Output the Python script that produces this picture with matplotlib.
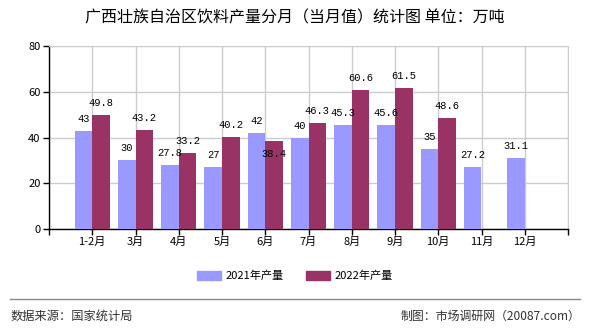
import matplotlib
matplotlib.use("Agg")
import matplotlib.pyplot as plt
import numpy as np
from matplotlib.patches import Patch
from matplotlib.lines import Line2D

plt.rcParams['font.family'] = ['Noto Sans CJK SC', 'DejaVu Sans']

categories = ["1-2月", "3月", "4月", "5月", "6月", "7月", "8月", "9月", "10月", "11月", "12月"]
values_2021 = [43, 30, 27.8, 27, 42, 40, 45.3, 45.6, 35, 27.2, 31.1]
values_2022 = [49.8, 43.2, 33.2, 40.2, 38.4, 46.3, 60.6, 61.5, 48.6, None, None]
series_names = ["2021年产量", "2022年产量"]
title = "广西壮族自治区饮料产量分月（当月值）统计图 单位：万吨"
source = "数据来源：国家统计局"
maker = "制图：市场调研网（20087.com）"

c1 = "#9999FF"
c2 = "#993366"

fig = plt.figure(figsize=(5.9, 3.3), dpi=100)
ax = fig.add_axes([49/590, 1-229/330, (568-49)/590, (229-46)/330])

x = np.arange(len(categories))
w = 0.405
v22 = [np.nan if v is None else v for v in values_2022]
ax.bar(x - w/2, values_2021, width=w, color=c1, zorder=3)
ax.bar(x + w/2, v22, width=w, color=c2, zorder=3)

lblfont = dict(family=['Liberation Mono', 'DejaVu Sans Mono'], fontsize=7.5, color='black')
for xi, v in zip(x, values_2021):
    ax.annotate(f"{v:g}", (xi - w/2, v), xytext=(0, 5), textcoords='offset points',
                ha='center', va='bottom', zorder=5, **lblfont)
for xi, v in zip(x, values_2022):
    if v is None:
        continue
    dy = 5
    if v == 38.4:
        dy = -13
    ax.annotate(f"{v:g}", (xi + w/2, v), xytext=(0, dy), textcoords='offset points',
                ha='center', va='bottom', zorder=5, **lblfont)

ax.set_xlim(-1, len(categories))
ax.set_ylim(0, 80)
ax.set_yticks([0, 20, 40, 60, 80])
ax.set_xticks(np.arange(-1, len(categories) + 1))
ax.set_xticklabels([""] + categories + [""])
ax.tick_params(axis='both', labelsize=8, length=4, width=1, colors='black', pad=2)
ax.grid(True, color='#cccccc', linewidth=1, zorder=0)
ax.set_axisbelow(True)
for s in ['top', 'right']:
    ax.spines[s].set_color('#cccccc')
for s in ['left', 'bottom']:
    ax.spines[s].set_color('black')
    ax.spines[s].set_linewidth(1)

fig.text(0.5, 1-18/330, title, ha='center', va='center', fontsize=11.5)

handles = [Patch(color=c1), Patch(color=c2)]
fig.legend(handles, series_names, loc='center', bbox_to_anchor=(0.5, 1-276/330),
           ncol=2, frameon=False, fontsize=8, handlelength=2.2, handleheight=0.9,
           columnspacing=2.0, handletextpad=0.4)

fig.add_artist(Line2D([10/590, 580/590], [1-299/330, 1-299/330], color='#888888', linewidth=1))
fig.text(11/590, 1-316/330, source, ha='left', va='center', fontsize=8.8, color='#333333')
fig.text(580/590, 1-316/330, maker, ha='right', va='center', fontsize=8.6, color='#333333')

fig.savefig("out.png", dpi=100)
